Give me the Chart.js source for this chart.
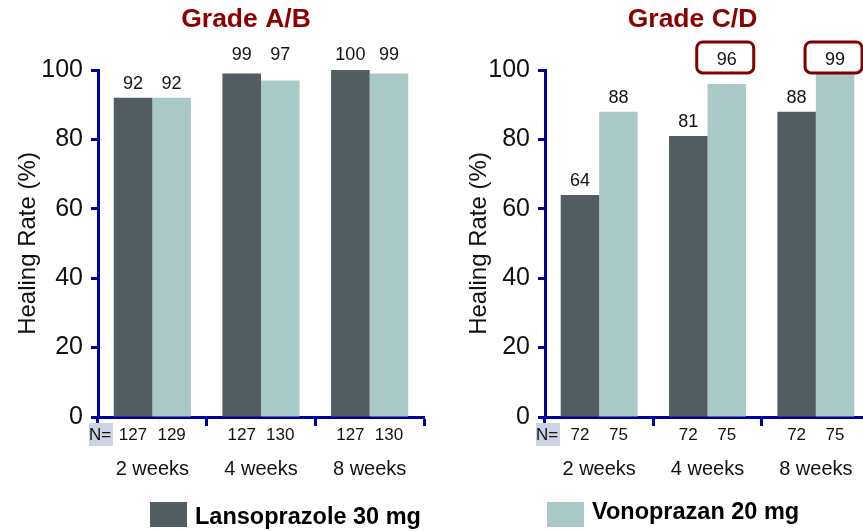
<!DOCTYPE html>
<html>
<head>
<meta charset="utf-8">
<script src="https://cdn.jsdelivr.net/npm/chart.js@4.4.1/dist/chart.umd.min.js"></script>
<style>
  html, body { margin: 0; padding: 0; background: #fff; overflow: hidden; }
  #wrap { position: relative; width: 863px; height: 531px; overflow: hidden; }
  #ab { position: absolute; left: 0; top: 0; }
  #cd { position: absolute; left: 431px; top: 0; }
</style>
</head>
<body>
<div id="wrap">
  <canvas id="ab" width="431" height="531"></canvas>
  <canvas id="cd" width="441" height="531"></canvas>
</div>
<script>
// Healing rates (%) by week, per treatment arm
const categories = ['2 weeks', '4 weeks', '8 weeks'];
const seriesNames = ['Lansoprazole 30 mg', 'Vonoprazan 20 mg'];
const lansoAB = [92, 99, 100];
const vonoAB = [92, 97, 99];
const lansoCD = [64, 81, 88];
const vonoCD = [88, 96, 99];
// patients per bar
const nLansoAB = [127, 127, 127];
const nVonoAB = [129, 130, 130];
const nLansoCD = [72, 72, 72];
const nVonoCD = [75, 75, 75];
// values called out with a frame
const framedVonoCD = [false, true, true];
const yTickStep = 20;
const yMax = 100;

const FONT = '"Liberation Sans", Arial, Helvetica, sans-serif';
const NAVY = '#0000a0';
const DARK = '#525d62';
const LIGHT = '#a9c9c7';
const TEXT = '#111111';

// Titles, value labels, N row and legend entry
const annotate = {
  id: 'annotate',
  afterDraw(chart, args, opts) {
    const ctx = chart.ctx;
    const area = chart.chartArea;
    const yScale = chart.scales.y;
    ctx.save();

    ctx.font = 'bold 26.5px ' + FONT;
    ctx.fillStyle = '#8b0000';
    ctx.textAlign = 'center';
    ctx.textBaseline = 'middle';
    ctx.fillText(opts.title, (area.left + area.right) / 2 + opts.titleShift, opts.titleY);

    // N= marker
    ctx.fillStyle = '#cdd3e3';
    ctx.fillRect(area.left - 9, area.bottom + 6, 24, 23);
    ctx.fillStyle = TEXT;
    ctx.font = '17px ' + FONT;
    ctx.textAlign = 'left';
    ctx.fillText('N=', area.left - 9, area.bottom + 18);

    chart.data.datasets.forEach((ds, di) => {
      const meta = chart.getDatasetMeta(di);
      meta.data.forEach((bar, i) => {
        const v = ds.data[i];
        const ly = v >= opts.rowMin ? yScale.getPixelForValue(opts.rowAt) : bar.y - 14;
        ctx.font = '18px ' + FONT;
        ctx.fillStyle = TEXT;
        ctx.textAlign = 'center';
        ctx.fillText(String(v), bar.x, ly);
        if (ds.framed && ds.framed[i]) {
          ctx.strokeStyle = '#7f0000';
          ctx.lineWidth = 3;
          ctx.beginPath();
          ctx.roundRect(bar.x - 30, ly - 18, 57, 31, 6);
          ctx.stroke();
        }
        ctx.font = '17px ' + FONT;
        ctx.fillText(String(ds.n[i]), bar.x, area.bottom + 18);
      });
    });

    const lg = opts.legend;
    const ds = chart.data.datasets[lg.index];
    ctx.fillStyle = ds.backgroundColor;
    ctx.fillRect(lg.x, lg.y, 37, 25);
    ctx.fillStyle = '#000';
    ctx.font = 'bold 23.5px ' + FONT;
    ctx.textAlign = 'left';
    ctx.fillText(ds.label, lg.x + 45, lg.textY);
    ctx.restore();
  }
};

function makeChart(id, lanso, vono, nL, nV, framed, cfg) {
  return new Chart(document.getElementById(id), {
    type: 'bar',
    data: {
      labels: categories,
      datasets: [
        { label: seriesNames[0], data: lanso, n: nL, backgroundColor: DARK,
          categoryPercentage: 0.71, barPercentage: 1.0 },
        { label: seriesNames[1], data: vono, n: nV, framed: framed, backgroundColor: LIGHT,
          categoryPercentage: 0.71, barPercentage: 1.0 }
      ]
    },
    options: {
      responsive: false,
      animation: false,
      layout: { padding: { left: 0, top: 70, right: cfg.padRight, bottom: 0 } },
      plugins: {
        legend: { display: false },
        tooltip: { enabled: false },
        annotate: cfg.annotate
      },
      scales: {
        x: {
          afterFit(scale) { scale.height = 114; },
          grid: {
            drawOnChartArea: false, drawTicks: true, tickLength: 9, tickWidth: 3,
            tickColor: (c) => (c.index === categories.length && cfg.blackEnd) ? '#000' : NAVY
          },
          border: { color: NAVY, width: 3 },
          // tall line box keeps the week labels below the N row
          ticks: { color: TEXT, font: { family: FONT, size: 20, lineHeight: 3.9 }, padding: 4 }
        },
        y: {
          min: 0, max: yMax,
          afterFit(scale) { scale.width = cfg.yWidth; },
          grid: { drawOnChartArea: false, drawTicks: true, tickLength: 7, tickWidth: 3, tickColor: NAVY },
          border: { color: NAVY, width: 3 },
          ticks: { stepSize: yTickStep, color: TEXT, font: { family: FONT, size: 25 }, padding: 8 },
          title: {
            display: true, text: 'Healing Rate (%)', color: TEXT,
            font: { family: FONT, size: 24, lineHeight: 1 },
            padding: { top: cfg.titlePad, bottom: 0 }
          }
        }
      }
    },
    plugins: [annotate]
  });
}

makeChart('ab', lansoAB, vonoAB, nLansoAB, nVonoAB, null, {
  padRight: 7, yWidth: 98, titlePad: 16, blackEnd: true,
  annotate: { title: 'Grade A/B', titleShift: -15, titleY: 20, rowMin: 95, rowAt: 104.3,
              legend: { index: 0, x: 150, y: 502, textY: 518 } }
});

makeChart('cd', lansoCD, vonoCD, nLansoCD, nVonoCD, framedVonoCD, {
  padRight: 2, yWidth: 114, titlePad: 36, blackEnd: false,
  annotate: { title: 'Grade C/D', titleShift: -15, titleY: 20, rowMin: 95, rowAt: 102.9,
              legend: { index: 1, x: 116, y: 502, textY: 512.5 } }
});
</script>
</body>
</html>
